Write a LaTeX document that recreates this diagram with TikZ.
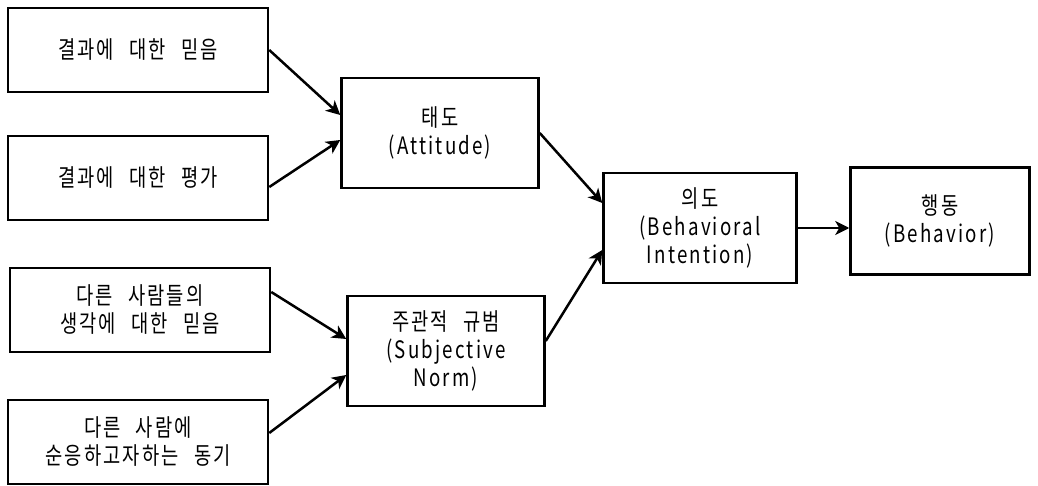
\documentclass[tikz,border=0pt]{standalone}
\usepackage{fontspec}
\setmainfont{Noto Sans CJK KR}[FakeStretch=0.78,LetterSpace=9,WordSpace=2.4]
\usetikzlibrary{arrows.meta}

\begin{document}
\begin{tikzpicture}[
    x=1pt, y=1pt,
    box/.style={rectangle, draw, line width=2.5pt, align=center, inner sep=0pt,
                font=\fontsize{24}{28}\selectfont},
    src/.style={box, minimum width=260pt, minimum height=84pt},
    mid/.style={box, minimum width=197pt, minimum height=110pt},
    link/.style={line width=2.5pt, -{Stealth[length=14pt,width=14pt,inset=4pt]}}
]
\useasboundingbox (0,0) rectangle (1038,-486);

% beliefs and evaluations
\node[src] (belief)  at (138,-50)  {결과에 대한 믿음};
\node[src] (eval)    at (138,-178) {결과에 대한 평가};
\node[src] (normbel) at (140,-310) {다른 사람들의\\생각에 대한 믿음};
\node[src] (motive)  at (138,-442) {다른 사람에\\순응하고자하는 동기};

% constructs
\node[mid] (attitude)  at (440,-133) {태도\\(Attitude)};
\node[mid] (norm)      at (446,-351) {주관적 규범\\(Subjective\\Norm)};
\node[mid, minimum width=193pt] (intention) at (700,-228) {의도\\(Behavioral\\Intention)};
\node[mid, minimum width=179pt, minimum height=107pt] (behavior) at (940,-221) {행동\\(Behavior)};

\draw[link] (belief.east) -- ([yshift=18pt]attitude.west);
\draw[link] ([yshift=-9pt]eval.east) -- ([yshift=-7pt]attitude.west);
\draw[link] ([yshift=18pt]normbel.east) -- ([yshift=12pt]norm.west);
\draw[link] ([yshift=9pt]motive.east) -- ([yshift=-24pt]norm.west);
\draw[link] (attitude.east) -- ([yshift=25pt]intention.west);
\draw[link] ([yshift=10pt]norm.east) -- ([yshift=-22pt]intention.west);
\draw[link] (intention.east) -- (intention.east -| behavior.west);
\end{tikzpicture}
\end{document}
